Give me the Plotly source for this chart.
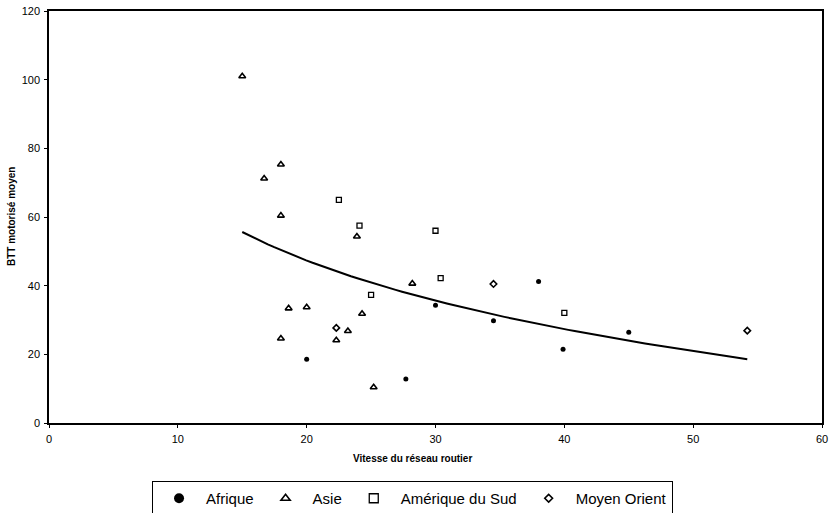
import numpy as np
import plotly.graph_objects as go

# Vitesse du réseau routier (km/h) / BTT motorisé moyen, par région
afrique_x = [20.0, 27.7, 30.0, 34.5, 38.0, 39.9, 45.0]
afrique_y = [18.6, 12.8, 34.3, 29.8, 41.2, 21.5, 26.4]

asie_x = [15.0, 16.7, 18.0, 18.0, 23.9, 28.2, 18.6, 20.0, 24.3, 23.2, 18.0, 22.3, 25.2]
asie_y = [101.0, 71.2, 75.3, 60.4, 54.3, 40.6, 33.4, 33.7, 31.8, 26.8, 24.6, 24.1, 10.4]

amsud_x = [22.5, 24.1, 30.0, 30.4, 25.0, 40.0]
amsud_y = [65.0, 57.5, 56.0, 42.2, 37.3, 32.1]

moyen_x = [22.3, 34.5, 54.2]
moyen_y = [27.7, 40.5, 26.9]

x_ticks = [0, 10, 20, 30, 40, 50, 60]
y_ticks = [0, 20, 40, 60, 80, 100, 120]

# Logarithmic trend line fitted on every point (y = a + b ln x)
all_x = np.array(afrique_x + asie_x + amsud_x + moyen_x)
all_y = np.array(afrique_y + asie_y + amsud_y + moyen_y)
b, a = np.polyfit(np.log(all_x), all_y, 1)
trend_x = np.linspace(all_x.min(), all_x.max(), 80)
trend_y = a + b * np.log(trend_x)

FONT = "Liberation Sans, Arial"

# name, x, y, symbol, plot size, legend size, outline width
series = [
    ("Afrique", afrique_x, afrique_y, "circle", 5, 10, 0),
    ("Asie", asie_x, asie_y, "triangle-up-open", 6, 8, 1.6),
    ("Amérique du Sud", amsud_x, amsud_y, "square-open", 5, 9, 1.3),
    ("Moyen Orient", moyen_x, moyen_y, "diamond-open", 5, 6, 1.6),
]

fig = go.Figure()

fig.add_trace(go.Scatter(
    x=trend_x, y=trend_y, mode="lines", showlegend=False,
    line=dict(color="black", width=2), hoverinfo="skip"))

for name, xs, ys, symbol, size, leg_size, lw in series:
    fig.add_trace(go.Scatter(
        x=xs, y=ys, mode="markers", name=name, legendgroup=name,
        showlegend=False,
        marker=dict(symbol=symbol, size=size, color="black",
                    line=dict(width=lw, color="black"))))
    # larger symbol shown in the legend only
    fig.add_trace(go.Scatter(
        x=[None], y=[None], mode="markers", name=name, legendgroup=name,
        marker=dict(symbol=symbol, size=leg_size, color="black",
                    line=dict(width=lw, color="black"))))

axis_common = dict(
    showgrid=False, zeroline=False, showline=True, linecolor="black",
    linewidth=1.5, mirror=True, ticks="outside", ticklen=3, tickwidth=1,
    tickcolor="black", automargin=False, ticklabelstandoff=2,
    tickfont=dict(family=FONT, size=11, color="black"),
)

fig.update_xaxes(range=[0, 60], tickvals=x_ticks, **axis_common)
fig.update_yaxes(range=[0, 120], tickvals=y_ticks, **axis_common)

fig.update_layout(
    width=829, height=513,
    margin=dict(l=49, r=7, t=11, b=90, autoexpand=False),
    paper_bgcolor="white", plot_bgcolor="white",
    legend=dict(
        orientation="h", xref="container", yref="container",
        x=0.1834, xanchor="left", y=0.0624, yanchor="top",
        bordercolor="black", borderwidth=1, bgcolor="white",
        font=dict(family=FONT, size=15, color="black"),
        itemwidth=44, tracegroupgap=0),
    annotations=[
        dict(text="<b>Vitesse du réseau routier</b>", xref="paper", yref="paper",
             x=0.47, y=-0.085, xanchor="center", yanchor="middle",
             showarrow=False, font=dict(family=FONT, size=10, color="black")),
        dict(text="<b>BTT motorisé moyen</b>", xref="paper", yref="paper",
             x=-0.0491, y=0.5, xanchor="center", yanchor="middle", textangle=-90,
             showarrow=False, font=dict(family=FONT, size=10, color="black")),
    ],
)

fig.write_html("out.html")
